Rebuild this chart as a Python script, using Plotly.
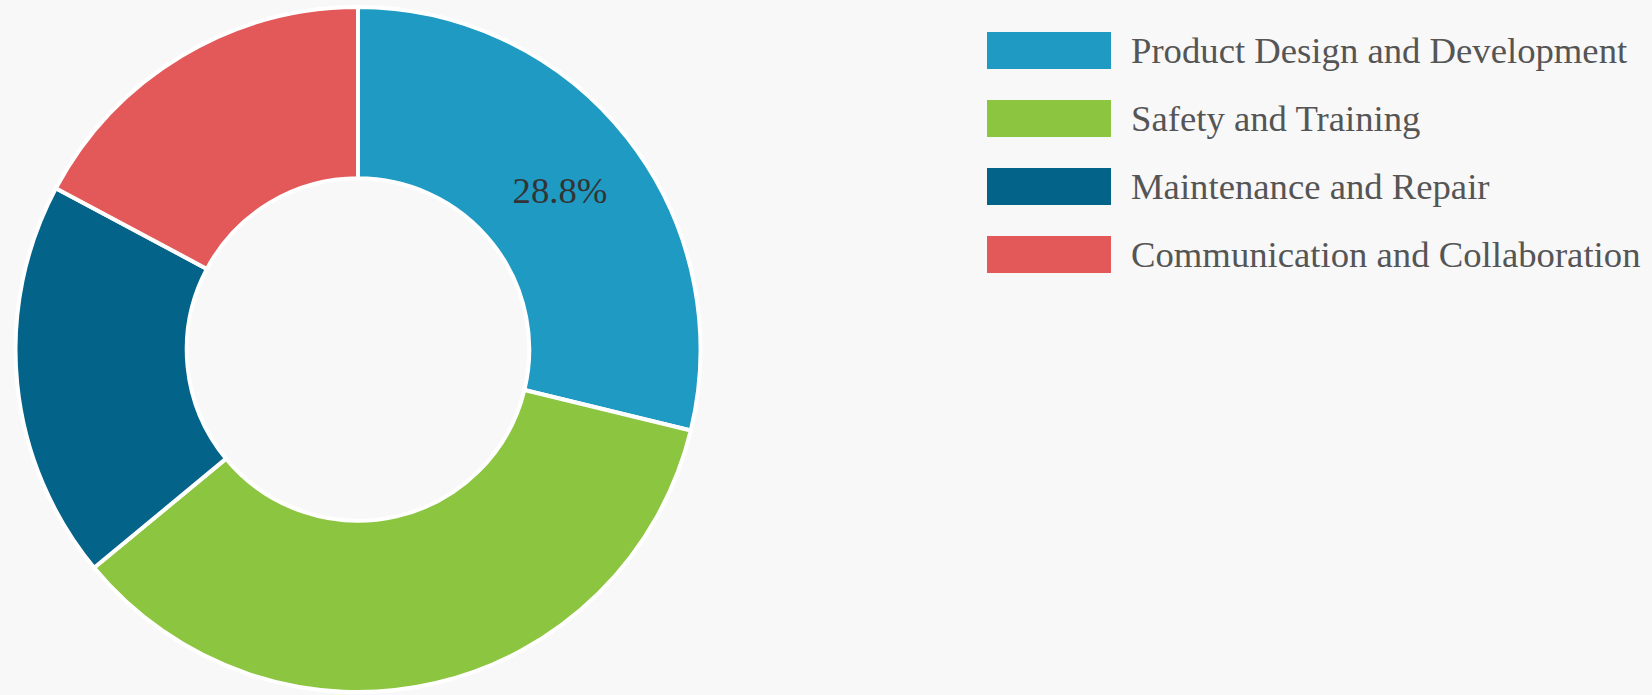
import plotly.graph_objects as go

categories = ["Product Design and Development", "Safety and Training",
              "Maintenance and Repair", "Communication and Collaboration"]
values = [28.8, 35.2, 18.8, 17.2]
colors = ["#1e9ac3", "#8cc540", "#046389", "#e35858"]
shown_labels = ["%{percent:.1%}", "", "", ""]

W, H = 1652, 695
BG = "#f8f8f8"
FONT = "Liberation Serif"

fig = go.Figure()
fig.add_trace(go.Pie(
    labels=categories,
    values=values,
    hole=0.5,
    sort=False,
    direction="clockwise",
    rotation=0,
    marker=dict(colors=colors, line=dict(color="white", width=4)),
    texttemplate=shown_labels,
    textposition="inside",
    insidetextorientation="horizontal",
    textfont=dict(family=FONT, size=36.7, color="#333333"),
    domain=dict(x=[15.5 / W, 700.5 / W], y=[1 - 692 / H, 1 - 7 / H]),
    hoverinfo="skip",
    showlegend=False,
))

# custom legend (wide colour boxes, as in the reference)
box_x0, box_x1 = 987, 1111
text_x = 1129
row0, row_step, box_h = 50.5, 68, 37
shapes, annotations = [], []
for i, (cat, col) in enumerate(zip(categories, colors)):
    cy = row0 + i * row_step
    shapes.append(dict(type="rect", xref="paper", yref="paper",
                       x0=box_x0 / W, x1=box_x1 / W,
                       y0=1 - (cy + box_h / 2) / H, y1=1 - (cy - box_h / 2) / H,
                       fillcolor=col, line=dict(width=0)))
    annotations.append(dict(xref="paper", yref="paper", x=text_x / W, y=1 - cy / H,
                            xanchor="left", yanchor="middle", showarrow=False,
                            text=cat, font=dict(family=FONT, size=36.7, color="#555555")))

fig.update_layout(
    width=W, height=H,
    margin=dict(l=0, r=0, t=0, b=0),
    paper_bgcolor=BG, plot_bgcolor=BG,
    shapes=shapes, annotations=annotations,
    showlegend=False,
)

fig.write_html(
    "out.html",
    config={"displayModeBar": False},
    post_script="document.body.style.margin='0';document.body.style.background='%s';"
                "document.body.style.overflow='hidden';" % BG,
)
